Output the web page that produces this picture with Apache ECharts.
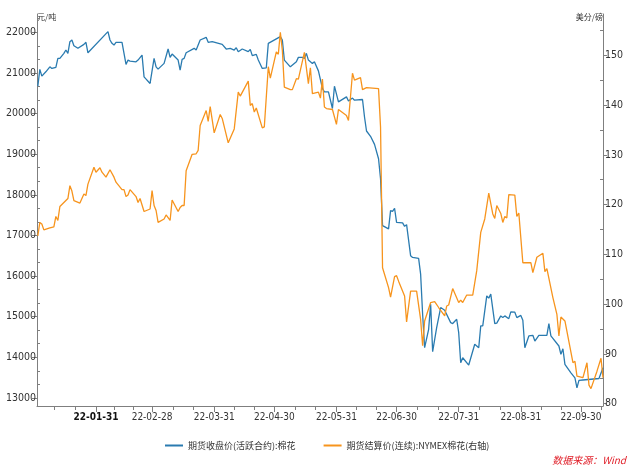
<!DOCTYPE html>
<html>
<head>
<meta charset="utf-8">
<script src="https://cdn.jsdelivr.net/npm/echarts@6/dist/echarts.min.js"></script>
<style>
html,body{margin:0;padding:0;background:#fff;}
#chart{width:627px;height:468px;}
</style>
</head>
<body>
<div id="chart"></div>
<script>
// ---- data ----
const YEAR = '2022';
const seriesNames = ['期货收盘价(活跃合约):棉花', '期货结算价(连续):NYMEX棉花(右轴)'];
const unitLeft = '元/吨';
const unitRight = '美分/磅';
const sourceText = '数据来源：Wind';

// 期货收盘价(活跃合约):棉花  (元/吨, left axis)
const cnDates = ['01-02','01-03','01-04','01-06','01-08','01-09','01-11','01-12','01-13','01-15','01-16','01-17','01-18','01-19','01-20','01-22','01-25','01-26','01-27',
'02-06','02-07','02-08','02-09','02-10','02-13','02-15','02-16','02-17','02-20','02-21','02-23','02-24','02-27',
'03-01','03-02','03-03','03-06','03-08','03-09','03-10','03-13','03-14','03-15','03-16','03-17','03-21','03-22','03-24','03-27','03-28','03-30',
'04-04','04-06','04-08','04-10','04-11','04-12','04-14','04-17','04-18','04-19','04-21','04-22','04-24','04-26','04-27',
'05-03','05-04','05-05','05-08','05-11','05-12','05-14','05-15','05-16','05-17','05-19','05-20','05-22','05-24','05-25','05-27','05-29','05-30',
'06-01','06-05','06-06','06-08','06-09','06-13','06-14','06-15','06-17','06-19','06-21','06-22','06-23','06-26','06-27','06-28','06-29','06-30',
'07-03','07-04','07-05','07-07','07-08','07-11','07-12','07-13','07-14','07-16','07-17','07-18','07-20','07-22','07-24','07-27','07-28','07-30','07-31',
'08-01','08-02','08-05','08-08','08-10','08-11','08-12','08-14','08-15','08-16','08-18','08-19','08-21','08-22','08-23','08-25','08-26','08-28','08-29','08-31',
'09-01','09-02','09-04','09-06','09-07','09-09','09-13','09-14','09-15','09-19','09-20','09-21','09-22','09-25','09-27','09-28','09-29',
'10-01','10-09','10-11'];
const cnValues = [20673,21086,20920,21027,21150,21110,21135,21357,21357,21481,21563,21481,21768,21810,21669,21605,21703,21753,21496,
22015,21810,21728,21686,21753,21753,21209,21316,21291,21274,21316,21439,20903,20740,
21357,21150,21093,21234,21588,21382,21464,21316,21069,21333,21357,21496,21605,21563,21810,21876,21753,21770,
21703,21588,21605,21563,21621,21522,21588,21522,21580,21424,21456,21316,21110,21126,21728,
21893,21810,21316,21150,21274,21382,21382,21357,21481,21316,21234,21274,21050,20617,20533,20533,20123,20673,
20286,20410,20310,20380,20328,20345,19915,19570,19439,19241,18887,18394,17240,17159,17611,17590,17668,17322,
17307,17223,17265,16500,16458,16433,16048,15060,14235,14689,15307,14136,14729,15223,15158,14852,14830,14936,14605,
13864,13988,13808,14319,14235,14771,14771,15512,15455,15554,14828,14840,15018,14980,15018,14950,15117,15110,14976,15030,
14911,14235,14524,14540,14400,14541,14541,14828,14524,14277,14072,14210,13825,13617,13494,13247,13430,
13440,13477,13741];

// 期货结算价(连续):NYMEX棉花  (美分/磅, right axis)
const usDates = ['01-02','01-03','01-04','01-05','01-08','01-10','01-11','01-12','01-13','01-17','01-18','01-19','01-20','01-23','01-25','01-26','01-27','01-30','01-31',
'02-02','02-03','02-05','02-07','02-09','02-10','02-13','02-14','02-15','02-16','02-17','02-20','02-21','02-22','02-24','02-27','02-28',
'03-01','03-02','03-03','03-06','03-07','03-09','03-10','03-13','03-14','03-15','03-16','03-17','03-20','03-22','03-23','03-24','03-27','03-28','03-29','03-31',
'04-03','04-04','04-07','04-10','04-12','04-13','04-17','04-18','04-19','04-20','04-21','04-24','04-25','04-27','04-28',
'05-01','05-02','05-03','05-04','05-05','05-08','05-09','05-11','05-12','05-15','05-17','05-18','05-19','05-22','05-23','05-24','05-25','05-26','05-29','05-31',
'06-01','06-03','06-05','06-06','06-08','06-09','06-12','06-13','06-15','06-21','06-22','06-23','06-26','06-27','06-29','06-30',
'07-01','07-04','07-05','07-07','07-10','07-12','07-13','07-14','07-17','07-19','07-21','07-24','07-25','07-26','07-28','07-31',
'08-01','08-02','08-04','08-07','08-09','08-11','08-13','08-15','08-17','08-18','08-19','08-21','08-22','08-23','08-24','08-25','08-28','08-29','08-30',
'09-01','09-05','09-06','09-08','09-11','09-12','09-13','09-16','09-18','09-19','09-20','09-22','09-26','09-27','09-28',
'10-01','10-03','10-04','10-05','10-08','10-10','10-11'];
const usValues = [113.7,116.4,116.1,114.9,115.3,115.5,117.6,116.8,119.6,121.2,123.8,122.7,120.8,120.3,122.1,121.8,124.1,127.5,126.5,
127.4,126.5,125.5,127.0,125.5,124.5,123.0,123.0,121.6,121.9,123.0,121.6,120.4,121.2,118.6,119.1,122.8,
119.8,118.8,116.4,117.1,117.9,116.8,120.9,118.6,119.4,119.8,119.8,126.8,130.1,130.2,130.9,135.9,138.9,136.7,139.7,134.4,
138.1,137.3,132.4,135.2,142.6,141.8,144.8,139.9,140.3,138.6,139.4,135.4,135.6,147.7,145.4,
150.7,150.2,154.6,151.0,143.6,143.1,143.1,145.3,145.2,150.6,144.3,147.5,142.3,142.6,141.4,145.2,139.6,139.3,139.1,136.1,
139.1,138.5,137.9,136.9,146.4,145.0,145.5,143.1,143.5,143.3,135.6,107.3,103.3,101.4,105.5,105.7,
104.6,101.6,96.4,102.6,102.6,96.9,91.6,96.6,100.3,100.5,99.3,97.6,99.6,99.8,103.1,100.3,
100.8,100.3,101.8,101.8,106.7,114.4,117.1,122.3,118.1,117.2,119.8,118.2,116.4,117.6,117.3,122.0,121.9,117.6,118.3,
108.3,108.3,106.3,109.4,110.2,106.5,107.1,101.3,97.9,93.6,97.4,96.6,88.2,88.5,85.5,
85.2,88.2,83.7,83.0,86.5,89.1,85.2];

// axis ticks / labels
const monthEnds = ['2021-12-31','2022-01-31','2022-02-28','2022-03-31','2022-04-30','2022-05-31','2022-06-30','2022-07-31','2022-08-31','2022-09-30','2022-10-31'];
const leftTicks = [13000,14000,15000,16000,17000,18000,19000,20000,21000,22000];
const rightTicks = [80,90,100,110,120,130,140,150];
const leftRange = [12800, 22450];
const rightRange = [79.5, 158.3];
const xRange = ['2022-01-01T14:00:00', '2022-10-11T00:00:00'];

// ---- build ----
const ts = s => new Date(s + (s.length === 10 ? 'T00:00:00' : '')).getTime();
const cnData = cnDates.map((d, i) => [ts(YEAR + '-' + d), cnValues[i]]);
const usData = usDates.map((d, i) => [ts(YEAR + '-' + d), usValues[i]]);
const xMin = ts(xRange[0]), xMax = ts(xRange[1]);
const endTs = monthEnds.map(ts);
const labelTs = endTs.filter(t => t >= xMin && t <= xMax);
const minorTs = [];
for (let i = 0; i < endTs.length - 1; i++) {
  const a = endTs[i], b = endTs[i + 1];
  [1, 2].forEach(k => { const t = a + (b - a) * k / 3; if (t > xMin && t < xMax) minorTs.push(t); });
}
const leftMinor = [];
for (let v = leftTicks[0] - 1000; v <= leftTicks[leftTicks.length - 1] + 1000; v += 1000) {
  [1, 2].forEach(k => { const m = v + 1000 * k / 3; if (m > leftRange[0] && m < leftRange[1]) leftMinor.push(m); });
}
const rightMinor = [];
for (let v = rightTicks[0] - 10; v <= rightTicks[rightTicks.length - 1] + 10; v += 10) {
  const m = v + 5; if (m > rightRange[0] && m < rightRange[1]) rightMinor.push(m);
}

const NUM_FONT = "'Liberation Sans Narrow','DejaVu Sans Condensed','Liberation Sans',sans-serif";
const CJK_FONT = "'Noto Sans CJK SC','Microsoft YaHei',sans-serif";
const AXIS_COLOR = '#7f7f7f';
const LABEL_COLOR = '#333333';
const pad = n => (n < 10 ? '0' : '') + n;
const plain = v => String(Math.round(v));

const chart = echarts.init(document.getElementById('chart'), null, {renderer: 'canvas'});
chart.setOption({
  animation: false,
  backgroundColor: '#ffffff',
  grid: {left: 37, right: 24, top: 14, bottom: 62, containLabel: false},
  xAxis: [{
    type: 'value', min: xMin, max: xMax, scale: true,
    axisLine: {show: true, lineStyle: {color: AXIS_COLOR, width: 1}},
    axisTick: {show: true, length: 6, customValues: labelTs, lineStyle: {color: AXIS_COLOR}},
    axisLabel: {
      customValues: labelTs, margin: 6, color: LABEL_COLOR, fontSize: 10, fontFamily: NUM_FONT,
      hideOverlap: false,
      formatter: (v) => {
        const d = new Date(v);
        const s = String(d.getFullYear()).slice(2) + '-' + pad(d.getMonth() + 1) + '-' + pad(d.getDate());
        return d.getMonth() === 0 ? '{b|' + s + '}' : s;
      },
      rich: {b: {fontWeight: 'bold', fontSize: 10, fontFamily: NUM_FONT, color: '#111'}}
    },
    splitLine: {show: false}
  }, {
    type: 'value', min: xMin, max: xMax, scale: true, position: 'bottom',
    axisLine: {show: false},
    axisTick: {show: true, length: 4, customValues: minorTs, lineStyle: {color: AXIS_COLOR}},
    axisLabel: {show: false},
    splitLine: {show: false}
  }],
  yAxis: [{
    type: 'value', position: 'left', min: leftRange[0], max: leftRange[1],
    name: unitLeft, nameLocation: 'end', nameGap: -3,
    nameTextStyle: {align: 'left', verticalAlign: 'middle', fontSize: 8, color: LABEL_COLOR, fontFamily: CJK_FONT},
    axisLine: {show: true, lineStyle: {color: AXIS_COLOR}},
    axisTick: {show: true, length: 5, customValues: leftTicks, lineStyle: {color: AXIS_COLOR}},
    axisLabel: {customValues: leftTicks, formatter: plain, margin: 1, color: LABEL_COLOR, fontSize: 10.5, fontFamily: NUM_FONT},
    splitLine: {show: false}
  }, {
    type: 'value', position: 'right', min: rightRange[0], max: rightRange[1],
    name: unitRight, nameLocation: 'end', nameGap: -3,
    nameTextStyle: {align: 'right', verticalAlign: 'middle', fontSize: 8, color: LABEL_COLOR, fontFamily: CJK_FONT},
    axisLine: {show: true, lineStyle: {color: AXIS_COLOR}},
    axisTick: {show: true, length: 4, customValues: rightTicks, lineStyle: {color: AXIS_COLOR}},
    axisLabel: {customValues: rightTicks, formatter: plain, margin: 2, color: LABEL_COLOR, fontSize: 10.5, fontFamily: NUM_FONT},
    splitLine: {show: false}
  }, {
    type: 'value', position: 'left', min: leftRange[0], max: leftRange[1],
    axisLine: {show: false},
    axisTick: {show: true, inside: true, length: 3, customValues: leftMinor, lineStyle: {color: AXIS_COLOR}},
    axisLabel: {show: false}, splitLine: {show: false}
  }, {
    type: 'value', position: 'right', min: rightRange[0], max: rightRange[1],
    axisLine: {show: false},
    axisTick: {show: true, inside: true, length: 3, customValues: rightMinor, lineStyle: {color: AXIS_COLOR}},
    axisLabel: {show: false}, splitLine: {show: false}
  }],
  legend: {
    data: seriesNames, left: 160, top: 436, itemGap: 28, itemWidth: 18, itemHeight: 2, icon: 'rect',
    textStyle: {fontSize: 9, color: LABEL_COLOR, fontFamily: CJK_FONT}
  },
  graphic: [{
    type: 'text', right: 1, top: 455,
    style: {text: sourceText, fill: '#e0202a', fontSize: 10, fontStyle: 'italic', fontFamily: CJK_FONT}
  }],
  series: [{
    name: seriesNames[0], type: 'line', xAxisIndex: 0, yAxisIndex: 0, data: cnData,
    showSymbol: false, color: '#2a7bb0', lineStyle: {width: 1.3, color: '#2a7bb0'}
  }, {
    name: seriesNames[1], type: 'line', xAxisIndex: 0, yAxisIndex: 1, data: usData,
    showSymbol: false, color: '#f7941d', lineStyle: {width: 1.3, color: '#f7941d'}
  }]
});
</script>
</body>
</html>
